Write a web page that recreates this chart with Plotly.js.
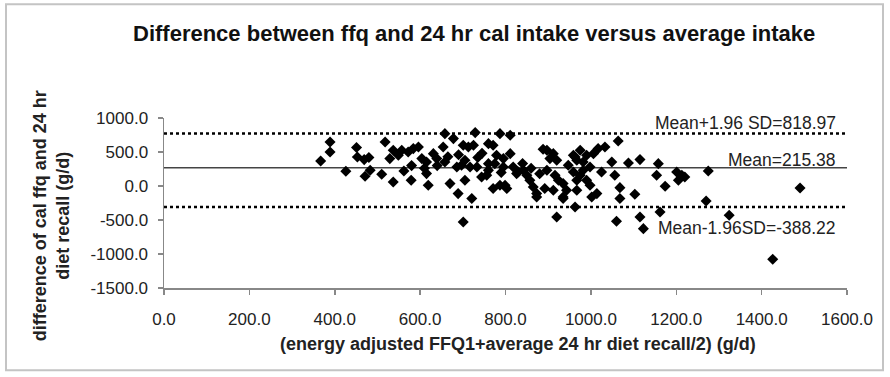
<!DOCTYPE html>
<html>
<head>
<meta charset="utf-8">
<script src="https://cdn.plot.ly/plotly-3.0.1.min.js"></script>
<style>
  html, body { margin: 0; padding: 0; background: #fff; }
  #chart { width: 890px; height: 377px; }
</style>
</head>
<body>
<div id="chart"></div>
<script>
// Average intake (x) and difference (y)
const avgIntake = [367,389,389,426,451,453,469,480,483,471,510,518,537,529,549,557,537,562,572,584,
  596,579,604,615,619,615,631,639,658,678,654,658,670,689,701,705,721,729,701,713,
  725,686,697,717,733,744,756,760,771,787,811,779,795,771,787,803,818,830,842,850,
  857,865,873,811,897,888,912,904,920,959,975,990,1006,1017,1033,967,982,1049,1088,1115,
  1158,897,916,924,935,943,935,959,967,975,982,990,998,892,912,967,1014,1025,1056,1068,
  1068,1103,963,920,1060,1115,1123,1154,1174,1201,1213,1220,1205,1275,1270,1162,1324,1490,1426,
  947,998,760,775,795,826,799,873,935,963,1002,1064,
  640,665,690,705,745,735,760,790,840,860,880,610,580];
const difference = [368,647,500,216,565,427,388,418,231,143,172,647,525,403,451,525,59,221,500,550,
  574,84,403,353,10,182,476,403,770,697,574,353,35,-112,-529,84,-185,785,599,574,
  599,280,304,280,280,132,157,623,599,770,746,451,403,-38,10,-38,280,206,231,157,
  84,-15,-162,476,525,540,476,403,378,451,525,451,476,550,574,378,353,353,338,388,
  329,231,157,84,35,-63,-185,206,84,157,231,84,10,-38,-63,-63,-112,206,157,-24,
  -185,-122,-309,-456,-519,-456,-627,157,-4,206,157,132,84,221,-221,-382,-431,-29,-1078,
  304,280,329,329,280,182,10,-112,-162,427,-162,662,
  300,430,460,380,480,420,230,200,330,260,180,260,300];

// Reference lines as drawn (y position) and their labels
const lineLevels = [772, 270, -310];
const lineStyles = ['dot', 'solid', 'dot'];
const lineLabels = ['Mean+1.96 SD=818.97', 'Mean=215.38', 'Mean-1.96SD=-388.22'];

const xTickVals = [0,200,400,600,800,1000,1200,1400,1600];
const xTickText = ['0.0','200.0','400.0','600.0','800.0','1000.0','1200.0','1400.0','1600.0'];
const yTickVals = [-1500,-1000,-500,0,500,1000];
const yTickText = ['-1500.0','-1000.0','-500.0','0.0','500.0','1000.0'];

const chartTitle = 'Difference between ffq and 24 hr cal intake versus average intake';
const xTitle = '(energy adjusted FFQ1+average 24 hr diet recall/2) (g/d)';
const yTitle = 'difference of cal ffq and 24 hr<br>diet recall (g/d)';

const FONT = 'Liberation Sans, Arial, sans-serif';
const textCol = '#222';

const trace = {
  type: 'scatter', mode: 'markers',
  x: avgIntake, y: difference,
  marker: { symbol: 'diamond', size: 8.5, color: '#000' },
  hoverinfo: 'x+y', showlegend: false, cliponaxis: false
};

const shapes = lineLevels.map((v, i) => ({
  type: 'line', xref: 'x', yref: 'y', x0: 0, x1: 1600, y0: v, y1: v,
  line: { color: lineStyles[i] === 'dot' ? '#000' : '#444', width: lineStyles[i] === 'dot' ? 2.5 : 1.5, dash: lineStyles[i] },
  layer: 'below'
}));
// outer frame
shapes.push({
  type: 'rect', xref: 'paper', yref: 'paper',
  x0: (6 - 164) / 683, x1: (883 - 164) / 683,
  y0: (287.7 - 370) / 170, y1: (287.7 - 4) / 170,
  line: { color: '#c4c4c4', width: 2 }, fillcolor: 'rgba(0,0,0,0)'
});

const labelY = [122.7, 159.3, 227.3];
const annotations = lineLabels.map((t, i) => ({
  text: t, xref: 'paper', yref: 'paper',
  x: (838 - 164) / 683, y: (287.7 - labelY[i]) / 170,
  xanchor: 'right', yanchor: 'middle', showarrow: false,
  font: { family: FONT, size: 17.5, color: textCol }
}));
annotations.push({
  text: '<b>' + chartTitle + '</b>', xref: 'paper', yref: 'paper',
  x: (474 - 164) / 683, y: (287.7 - 33) / 170, xanchor: 'center', yanchor: 'middle',
  showarrow: false, font: { family: FONT, size: 22, color: '#111' }
});
annotations.push({
  text: '<b>' + xTitle + '</b>', xref: 'paper', yref: 'paper',
  x: (518 - 164) / 683, y: (287.7 - 344) / 170, xanchor: 'center', yanchor: 'middle',
  showarrow: false, font: { family: FONT, size: 18, color: textCol }
});
annotations.push({
  text: '<b>' + yTitle + '</b>', xref: 'paper', yref: 'paper', textangle: -90,
  x: (51 - 164) / 683, y: (287.7 - 216) / 170, xanchor: 'center', yanchor: 'middle',
  showarrow: false, font: { family: FONT, size: 18, color: textCol }
});

const layout = {
  width: 890, height: 377,
  margin: { l: 164, r: 43, t: 118, b: 89.3, pad: 0 },
  paper_bgcolor: '#fff', plot_bgcolor: '#fff',
  font: { family: FONT, color: textCol },
  xaxis: {
    range: [0, 1600], tickvals: xTickVals, ticktext: xTickText,
    showgrid: false, zeroline: false, showline: true, linecolor: '#888', linewidth: 1.5,
    ticks: 'outside', ticklen: 5, tickcolor: '#888', tickwidth: 1.5,
    tickfont: { family: FONT, size: 17, color: textCol }, ticklabelstandoff: 10
  },
  yaxis: {
    range: [-1500, 1000], tickvals: yTickVals, ticktext: yTickText,
    showgrid: false, zeroline: false, showline: true, linecolor: '#888', linewidth: 1.5,
    ticks: 'outside', ticklen: 5, tickcolor: '#888', tickwidth: 1.5,
    tickfont: { family: FONT, size: 17, color: textCol }, ticklabelstandoff: 6
  },
  shapes: shapes,
  annotations: annotations,
  showlegend: false
};

Plotly.newPlot('chart', [trace], layout, { displayModeBar: false, staticPlot: true });
</script>
</body>
</html>
